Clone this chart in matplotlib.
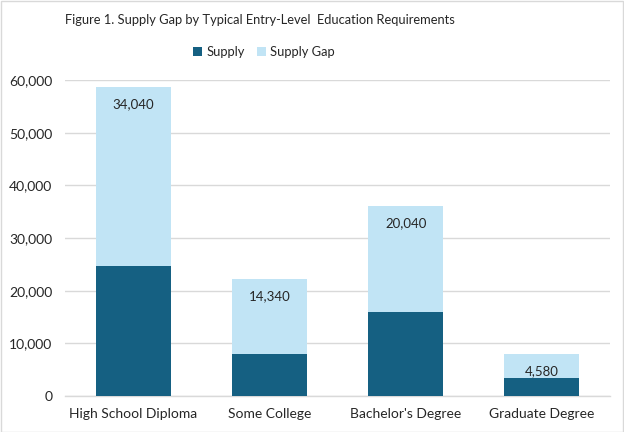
import matplotlib
matplotlib.use("Agg")
import matplotlib.pyplot as plt
from matplotlib.patches import Rectangle
from matplotlib.ticker import FuncFormatter

categories = ["High School Diploma", "Some College", "Bachelor's Degree", "Graduate Degree"]
supply = [24700, 7950, 15950, 3420]
supply_gap = [34040, 14340, 20040, 4580]
yticks = [0, 10000, 20000, 30000, 40000, 50000, 60000]

plt.rcParams['font.family'] = ['Lato', 'DejaVu Sans']
text_color = '#262626'
dark = '#156082'
light = '#C1E4F5'

fig = plt.figure(figsize=(6.24, 4.32), dpi=100)
ax = fig.add_axes([65/624, 36/432, 545/624, 316/432])

x = list(range(len(categories)))
ax.bar(x, supply, width=0.55, color=dark, label='Supply', zorder=3)
ax.bar(x, supply_gap, width=0.55, bottom=supply, color=light, label='Supply Gap', zorder=3)

for xi, s, g in zip(x, supply, supply_gap):
    ax.annotate(f"{g:,}", xy=(xi, s + g), xytext=(0, -8), textcoords='offset points',
                ha='center', va='top', fontsize=9.5, color=text_color, zorder=4)

ax.set_xlim(-0.5, len(categories) - 0.5)
ax.set_ylim(0, 60000)
ax.set_yticks(yticks)
ax.yaxis.set_major_formatter(FuncFormatter(lambda v, p: f"{int(v):,}"))
ax.set_xticks(x)
ax.set_xticklabels(categories)
ax.tick_params(axis='both', length=0, labelsize=10, colors=text_color)
ax.tick_params(axis='y', pad=9)
ax.tick_params(axis='x', pad=9)
ax.grid(axis='y', color='#D9D9D9', linewidth=1, zorder=0)
for side in ['top', 'right', 'left']:
    ax.spines[side].set_visible(False)
ax.spines['bottom'].set_color('#D9D9D9')
ax.spines['bottom'].set_linewidth(1)

fig.text(260/624, 1 - 20/432, "Figure 1. Supply Gap by Typical Entry-Level  Education Requirements",
         ha='center', va='center', fontsize=9.3, color=text_color)
fig.legend(loc='center', bbox_to_anchor=(264/624, 1 - 52/432), ncol=2, frameon=False,
           fontsize=9.3, handlelength=0.7, handleheight=0.7, columnspacing=1.0,
           handletextpad=0.3, labelcolor=text_color)

fig.add_artist(Rectangle((0.5/624, 0.5/432), 1 - 1.5/624, 1 - 1.5/432, transform=fig.transFigure,
                         fill=False, edgecolor='#D9D9D9', linewidth=1))

fig.savefig("out.png", dpi=100)
